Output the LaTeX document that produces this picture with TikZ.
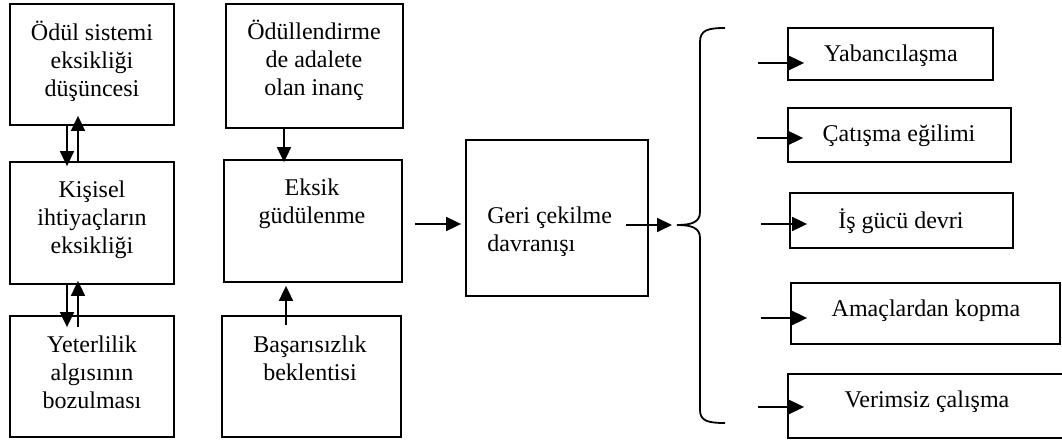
\documentclass[tikz,border=0pt]{standalone}
\usepackage{fontspec}
\setmainfont{Liberation Serif}
\usetikzlibrary{arrows.meta,calc}
\begin{document}
\begin{tikzpicture}[x=0.5pt,y=-0.5pt,
  box/.style={draw, line width=0.9pt, inner sep=0pt},
  txt/.style={font=\fontsize{12}{14}\selectfont, align=center, inner sep=0pt},
  arr/.style={line width=0.9pt, -{Triangle[length=7.5pt,width=7pt]}},
  brc/.style={line width=0.9pt}
]
\useasboundingbox (0,0) rectangle (1062,444);
\clip (0,0) rectangle (1062,444);
% left column
\node[box, minimum width=82pt, minimum height=60.5pt] (b1) at (92,64.5) {};
\node[box, minimum width=82pt, minimum height=61pt] (b2) at (92,223) {};
\node[box, minimum width=82pt, minimum height=60.5pt] (b3) at (92,376.5) {};
\node[txt] (t1) at (92,61) {Ödül sistemi\\eksikliği\\düşüncesi};
\node[txt] (t2) at (92,220) {Kişisel\\ihtiyaçların\\eksikliği};
\node[txt] (t3) at (92,372) {Yeterlilik\\algısının\\bozulması};
% middle column
\node[box, minimum width=88.5pt, minimum height=62pt] (b4) at (314.5,66) {};
\node[box, minimum width=89pt, minimum height=61pt] (b5) at (313,221) {};
\node[box, minimum width=89.5pt, minimum height=60.5pt] (b6) at (311.5,376.5) {};
\node[txt] (t4) at (314,60) {Ödüllendirme\\de adalete\\olan inanç};
\node[txt] (t5) at (312,204) {Eksik\\güdülenme};
\node[txt] (t6) at (310,358) {Başarısızlık\\beklentisi};
% center box
\node[box, minimum width=91pt, minimum height=78pt] (b7) at (557,218) {};
\node[txt, align=left, anchor=west] (t7) at (487,232) {Geri çekilme\\davranışı};
% right boxes
\node[box, minimum width=102.5pt, minimum height=26pt] (r1) at (890.5,54) {};
\node[box, minimum width=111.5pt, minimum height=27pt] (r2) at (899.5,135) {};
\node[box, minimum width=111.5pt, minimum height=27.5pt] (r3) at (901.5,220.5) {};
\node[box, minimum width=134.5pt, minimum height=30.5pt] (r4) at (925.5,313.5) {};
\node[box, minimum width=139pt, minimum height=32pt] (r5) at (927,406) {};
\node[txt, anchor=base] (u1) at (891,62) {Yabancılaşma};
\node[txt, anchor=base] (u2) at (899,141.5) {Çatışma eğilimi};
\node[txt, anchor=base] (u3) at (901,228) {İş gücü devri};
\node[txt, anchor=base] (u4) at (926,316) {Amaçlardan kopma};
\node[txt, anchor=base] (u5) at (927,408) {Verimsiz çalışma};
% left column arrows
\draw[arr] ($(b1.south)+(-25,0)$) -- ($(b2.north)+(-25,5)$);
\draw[arr] ($(b2.north)+(-14,0)$) -- ($(b1.south)+(-14,-10)$);
\draw[arr] ($(b2.south)+(-25,0)$) -- ($(b3.north)+(-25,12)$);
\draw[arr] ($(b3.north)+(-14,12)$) -- ($(b2.south)+(-14,-4)$);
% middle arrows
\draw[arr] ($(b4.south)+(-30.5,0)$) -- ($(b5.north)+(-29,3)$);
\draw[arr] ($(b6.north)+(-25.5,10)$) -- ($(b5.south)+(-27,3)$);
\draw[arr] ($(b5.east)+(12,3)$) -- ($(b7.west)+(-4,6)$);
% brace
\coordinate (bt) at (672,225);
\draw[arr] ($(b7.east)+(-23,7)$) -- (bt);
\draw[brc] (725,28) .. controls (708,28) and (700,30) .. (700,42)
  -- (700,212) .. controls (700,222) and (692,225) .. (677,225)
  .. controls (692,225) and (700,228) .. (700,238)
  -- (700,410) .. controls (700,421) and (708,423) .. (725,423);
% right arrows
\coordinate (s1) at (758,63);
\coordinate (s2) at (757,138);
\coordinate (s3) at (761,224);
\coordinate (s4) at (761,318);
\coordinate (s5) at (758,407);
\draw[arr] (s1) -- ($(r1.west |- s1)+(17,0)$);
\draw[arr] (s2) -- ($(r2.west |- s2)+(16,0)$);
\draw[arr] (s3) -- ($(r3.west |- s3)+(18,0)$);
\draw[arr] (s4) -- ($(r4.west |- s4)+(17,0)$);
\draw[arr] (s5) -- ($(r5.west |- s5)+(17,0)$);
\end{tikzpicture}
\end{document}
